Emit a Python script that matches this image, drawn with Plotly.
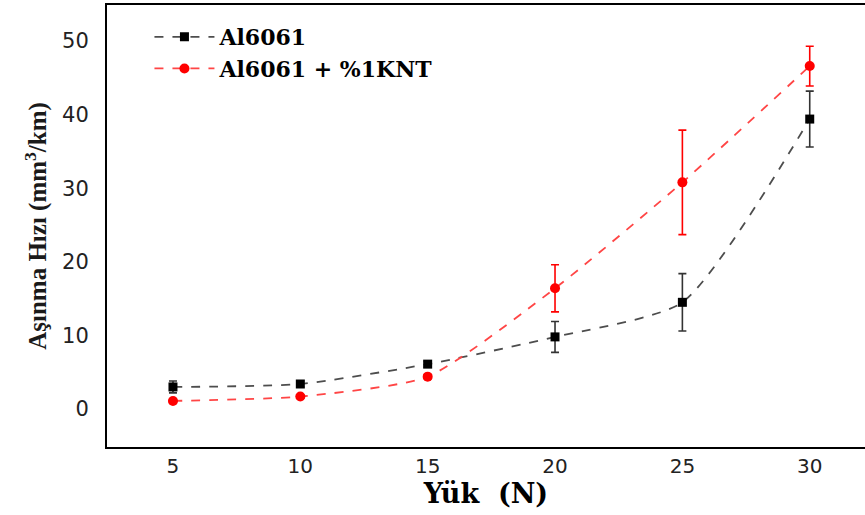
import plotly.graph_objects as go

loads = [5, 10, 15, 20, 25, 30]
al6061 = [3.0, 3.4, 6.1, 9.8, 14.5, 39.4]
al6061_err = [0.8, 0.4, 0.4, 2.1, 3.9, 3.8]
al6061_knt = [1.1, 1.7, 4.4, 16.4, 30.8, 46.6]
al6061_knt_err = [0.2, 0.2, 0.3, 3.2, 7.1, 2.7]
y_ticks = [0, 10, 20, 30, 40, 50]
x_ticks = [5, 10, 15, 20, 25, 30]

fig = go.Figure()
fig.add_trace(go.Scatter(
    x=loads, y=al6061, name="Al6061", mode="lines+markers",
    line=dict(color="#4d4d4d", dash="dash", width=1.8, shape="spline", smoothing=0.6),
    marker=dict(symbol="square", color="black", size=9),
    error_y=dict(type="data", array=al6061_err, visible=True, color="#333333", thickness=1.6, width=4),
))
fig.add_trace(go.Scatter(
    x=loads, y=al6061_knt, name="Al6061 + %1KNT", mode="lines+markers",
    line=dict(color="#ff4545", dash="dash", width=1.8, shape="spline", smoothing=0.6),
    marker=dict(symbol="circle", color="red", size=10),
    error_y=dict(type="data", array=al6061_knt_err, visible=True, color="red", thickness=1.6, width=4),
))

fig.update_layout(
    width=865, height=515,
    margin=dict(l=107, r=0, t=5, b=68),
    paper_bgcolor="white", plot_bgcolor="white",
    showlegend=True,
    legend=dict(x=0.056, y=0.975, xanchor="left", yanchor="top",
                font=dict(family="DejaVu Serif", size=22, color="black", weight="bold"),
                bgcolor="rgba(0,0,0,0)", tracegroupgap=0, itemwidth=60),
)
fig.update_xaxes(
    range=[2.41, 32.17], tickvals=x_ticks, showgrid=False, zeroline=False,
    showline=True, linecolor="black", linewidth=2, mirror=True, ticks="",
    tickfont=dict(family="DejaVu Sans", size=20, color="#222222"),
    title=dict(text="Yük  (N)", font=dict(family="DejaVu Serif", size=27, color="black", weight="bold"), standoff=6),
)
fig.update_yaxes(
    range=[-5.16, 54.9], tickvals=y_ticks, showgrid=False, zeroline=False,
    showline=True, linecolor="black", linewidth=2, mirror=False, ticks="",
    tickfont=dict(family="DejaVu Sans", size=21, color="#222222"),
    ticklabelstandoff=12,
    title=dict(text="Aşınma Hızı (mm<sup>3</sup>/km)", font=dict(family="Liberation Serif", size=25, color="#1a1a1a", weight="bold"), standoff=8),
)

fig.write_html("out.html", config={"displayModeBar": False},
               post_script="document.body.style.margin='0';document.body.style.overflow='hidden';")
